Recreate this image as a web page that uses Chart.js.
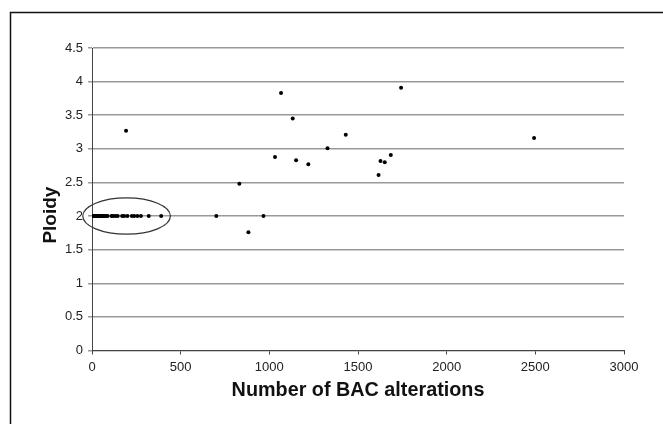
<!DOCTYPE html>
<html>
<head>
<meta charset="utf-8">
<script src="https://cdn.jsdelivr.net/npm/chart.js@4"></script>
<style>
  html, body { margin: 0; padding: 0; background: #fff; }
  #wrap { width: 663px; height: 424px; }
</style>
</head>
<body>
<div id="wrap"><canvas id="scatter" width="663" height="424"></canvas></div>
<script>
/**
 * Ploidy vs number of BAC alterations (scatter)
 */

// Values
const bacAlterations = [
  0, 3, 6, 10, 14, 18, 22, 27, 32, 38, 44, 50, 57, 64, 72, 80, 88,
  110, 120, 132, 145, 170, 182, 200, 225, 238, 256, 276, 320, 390,
  192, 701, 831, 882, 967, 1032, 1066, 1132, 1151, 1220, 1328, 1431,
  1616, 1627, 1651, 1685, 1743, 2493
];
const ploidy = [
  2, 2, 2, 2, 2, 2, 2, 2, 2, 2, 2, 2, 2, 2, 2, 2, 2,
  2, 2, 2, 2, 2, 2, 2, 2, 2, 2, 2, 2, 2,
  3.27, 2, 2.48, 1.76, 2, 2.88, 3.83, 3.45, 2.83, 2.77, 3.01, 3.21,
  2.61, 2.82, 2.80, 2.91, 3.91, 3.16
];

const xTickValues = [0, 500, 1000, 1500, 2000, 2500, 3000];
const xTickLabels = ['0', '500', '1000', '1500', '2000', '2500', '3000'];
const yTickValues = [0, 0.5, 1, 1.5, 2, 2.5, 3, 3.5, 4, 4.5];
const yTickLabels = ['0', '0.5', '1', '1.5', '2', '2.5', '3', '3.5', '4', '4.5'];

// circled cluster: centre and radii in data units
const clusterCentre = [195, 2];
const clusterRadii = [247, 0.27];

const FONT = "'Liberation Sans', Arial, sans-serif";

/** Ellipse round the low-alteration cluster, placed through the scales */
const clusterRing = {
  id: 'clusterRing',
  afterDatasetsDraw(chart) {
    const { ctx, scales: { x, y } } = chart;
    const cx = x.getPixelForValue(clusterCentre[0]);
    const cy = y.getPixelForValue(clusterCentre[1]);
    const rx = x.getPixelForValue(clusterCentre[0] + clusterRadii[0]) - cx;
    const ry = cy - y.getPixelForValue(clusterCentre[1] + clusterRadii[1]);
    ctx.save();
    ctx.beginPath();
    ctx.ellipse(cx, cy, rx, ry, 0, 0, Math.PI * 2);
    ctx.strokeStyle = '#333';
    ctx.lineWidth = 1.2;
    ctx.stroke();
    ctx.restore();
  },
};

/** Frame lines on top and left of the picture */
const frame = {
  id: 'frame',
  afterDraw(chart) {
    const { ctx, width, height } = chart;
    ctx.save();
    ctx.strokeStyle = '#111';
    ctx.lineWidth = 1.5;
    ctx.beginPath();
    ctx.moveTo(10.5, height);
    ctx.lineTo(10.5, 12.5);
    ctx.lineTo(width, 12.5);
    ctx.stroke();
    ctx.restore();
  },
};

new Chart(document.getElementById('scatter'), {
  type: 'scatter',
  data: {
    datasets: [{
      data: bacAlterations.map((v, i) => ({ x: v, y: ploidy[i] })),
      backgroundColor: '#000',
      borderWidth: 0,
      pointRadius: 2,
      pointHoverRadius: 2,
    }],
  },
  options: {
    responsive: false,
    animation: false,
    events: [],
    layout: { padding: { top: 48, right: 39, left: 0, bottom: 0 } },
    plugins: { legend: { display: false }, tooltip: { enabled: false } },
    scales: {
      x: {
        type: 'linear',
        min: 0,
        max: 3000,
        afterFit: (s) => { s.height = 73.5; },
        afterBuildTicks: (s) => { s.ticks = xTickValues.map((v) => ({ value: v })); },
        ticks: {
          callback: (v) => xTickLabels[xTickValues.indexOf(v)],
          color: '#222',
          font: { family: FONT, size: 13 },
          padding: 5,
          maxRotation: 0,
        },
        grid: { drawOnChartArea: false, drawTicks: true, tickLength: 4, color: '#444', lineWidth: 1 },
        border: { color: '#444', width: 1 },
        title: {
          display: true,
          text: 'Number of BAC alterations',
          color: '#111',
          font: { family: FONT, size: 19.8, weight: 'bold', lineHeight: 1.2 },
          padding: { top: 0, bottom: 22 },
        },
      },
      y: {
        type: 'linear',
        min: 0,
        max: 4.5,
        afterFit: (s) => { s.width = 92; },
        afterBuildTicks: (s) => { s.ticks = yTickValues.map((v) => ({ value: v })); },
        ticks: {
          callback: (v) => yTickLabels[yTickValues.indexOf(v)],
          color: '#222',
          font: { family: FONT, size: 13 },
          padding: 5,
        },
        grid: { color: '#999', lineWidth: 1.5, drawTicks: true, tickLength: 4 },
        border: { color: '#444', width: 1 },
        title: {
          display: true,
          // trailing spaces push the word lower, as in the reference
          text: 'Ploidy      ',
          color: '#111',
          font: { family: FONT, size: 19, weight: 'bold', lineHeight: 1.2 },
          padding: { top: 39, bottom: 0 },
        },
      },
    },
  },
  plugins: [clusterRing, frame],
});
</script>
</body>
</html>
